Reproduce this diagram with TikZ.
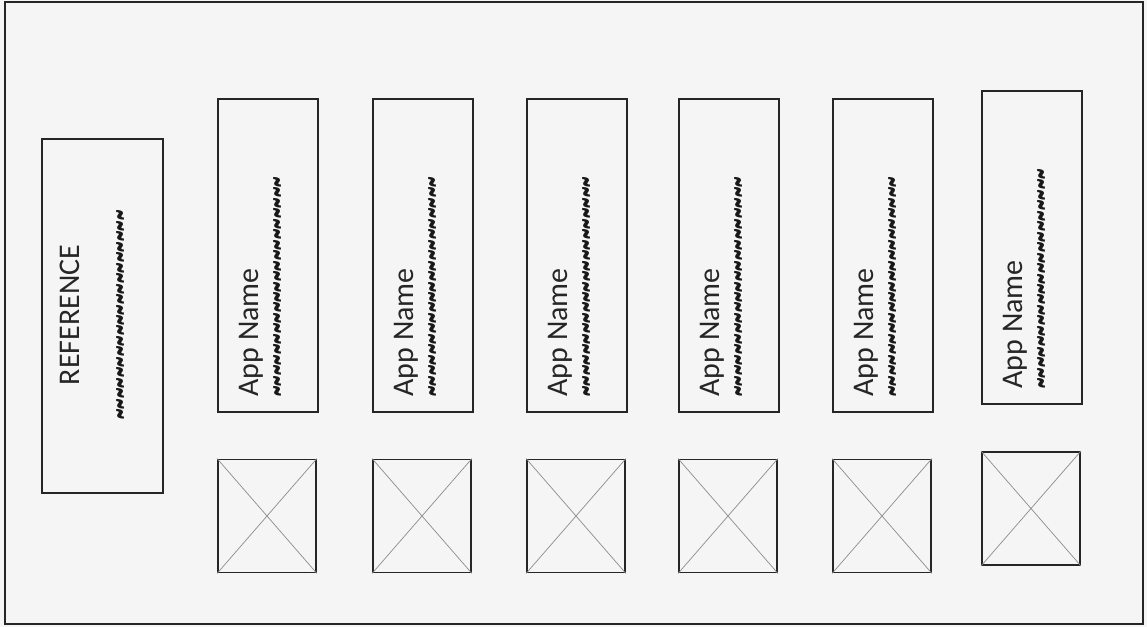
\documentclass[tikz,border=0pt]{standalone}
\usepackage{fontspec}
\setmainfont{Carlito}
\usepackage{graphicx}
\usepackage{tikz}
\usetikzlibrary{positioning, calc}

\newcommand{\wavyline}[1]{\scalebox{1}[2]{\foreach \k in {1,...,#1}{\char"7E}}}

\tikzset{
  frame/.style={draw=black!85, line width=0.9pt},
  appbox/.style={frame, minimum width=50pt, minimum height=156.5pt, inner sep=0pt},
  imgbox/.style={frame, minimum width=49pt, minimum height=56.5pt, inner sep=0pt},
  cross/.style={draw=black!45, line width=0.35pt},
  appname/.style={rotate=90, anchor=base west, inner sep=0pt, text=black!85,
    font=\fontsize{15}{18}\selectfont},
  squiggle/.style={rotate=90, anchor=west, inner sep=0pt, text=black!90,
    font=\bfseries\fontsize{10.5}{12}\selectfont}
}

\begin{document}
\begin{tikzpicture}[x=0.5pt, y=-0.5pt]
  % paper and outer border
  \useasboundingbox[fill=black!4] (0,0) rectangle (1147,627);
  \draw[frame] (5,2) rectangle (1143,624);

  % Reference panel
  \node[frame, minimum width=60.5pt, minimum height=177pt] (ref) at (102.5,316) {};
  \node[appname, anchor=center] (reftitle) at (70,315) {REFERENCE};
  \node[squiggle, anchor=center] (refwave) at (124,315) {\wavyline{20}};

  % App cards (box, name, description)
  \node[appbox] (app1) at (268,255.5) {};
  \node[appname] (name1) at (258,397) {App Name};
  \node[squiggle] (wave1) at (281,397) {\wavyline{21}};

  \node[appbox] (app2) at (423,255.5) {};
  \node[appname] (name2) at (413,397) {App Name};
  \node[squiggle] (wave2) at (436,397) {\wavyline{21}};

  \node[appbox] (app3) at (577,255.5) {};
  \node[appname] (name3) at (567,397) {App Name};
  \node[squiggle] (wave3) at (590,397) {\wavyline{21}};

  \node[appbox] (app4) at (729,255.5) {};
  \node[appname] (name4) at (719,397) {App Name};
  \node[squiggle] (wave4) at (742,397) {\wavyline{21}};

  \node[appbox] (app5) at (883,255.5) {};
  \node[appname] (name5) at (873,397) {App Name};
  \node[squiggle] (wave5) at (896,397) {\wavyline{21}};

  \node[appbox] (app6) at (1032,247.5) {};
  \node[appname] (name6) at (1022,389) {App Name};
  \node[squiggle] (wave6) at (1045,389) {\wavyline{21}};

  % Image placeholders
  \node[imgbox] (img1) at (267,516) {};
  \node[imgbox] (img2) at (422,516) {};
  \node[imgbox] (img3) at (576,516) {};
  \node[imgbox] (img4) at (728,516) {};
  \node[imgbox] (img5) at (882,516) {};
  \node[imgbox] (img6) at (1031,508.5) {};

  \draw[cross] (img1.north west) -- (img1.south east) (img1.south west) -- (img1.north east);
  \draw[cross] (img2.north west) -- (img2.south east) (img2.south west) -- (img2.north east);
  \draw[cross] (img3.north west) -- (img3.south east) (img3.south west) -- (img3.north east);
  \draw[cross] (img4.north west) -- (img4.south east) (img4.south west) -- (img4.north east);
  \draw[cross] (img5.north west) -- (img5.south east) (img5.south west) -- (img5.north east);
  \draw[cross] (img6.north west) -- (img6.south east) (img6.south west) -- (img6.north east);
\end{tikzpicture}
\end{document}
